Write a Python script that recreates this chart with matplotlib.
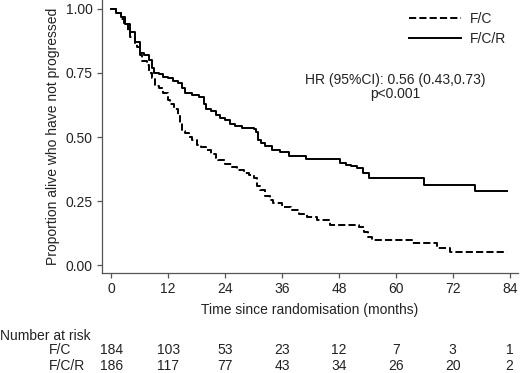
import matplotlib

matplotlib.use("Agg")
import matplotlib.pyplot as plt
from matplotlib import transforms

plt.rcParams["font.family"] = ["Liberation Sans", "DejaVu Sans"]

# Kaplan-Meier steps (months, proportion)
FC_TIME = [0, 1, 2, 2.6, 3.5, 4, 5, 5.5, 6, 6.5, 7.5, 8, 8.5, 9.3, 10, 11, 12, 12.5,
           13.3, 14, 14.6, 15, 15.5, 16.3, 17, 18, 19, 20, 21, 22, 22.6, 24, 25.5,
           26.5, 27.9, 29, 30, 30.7, 31.4, 32.5, 33.5, 34.2, 36, 37.8, 39.5, 41.3,
           43.4, 46.2, 52.2, 53.2, 54.2, 55, 63.4, 68.7, 71.5, 83.5]
FC_SURV = [1.0, 0.985, 0.96, 0.94, 0.91, 0.89, 0.865, 0.85, 0.82, 0.795, 0.78, 0.75,
           0.73, 0.70, 0.69, 0.67, 0.645, 0.63, 0.61, 0.585, 0.555, 0.525, 0.515, 0.50,
           0.488, 0.47, 0.46, 0.449, 0.435, 0.42, 0.41, 0.395, 0.384, 0.37, 0.358, 0.35,
           0.339, 0.31, 0.293, 0.27, 0.255, 0.241, 0.228, 0.215, 0.20, 0.189, 0.176,
           0.156, 0.15, 0.13, 0.11, 0.098, 0.085, 0.068, 0.05, 0.05]

FCR_TIME = [0, 1, 2, 3, 4, 5, 6, 7, 8, 8.5, 9, 10, 11, 12, 13, 14, 15, 15.5, 17, 18.5,
            19.5, 20, 21, 22, 23, 24, 25, 26, 27.5, 30, 30.5, 31, 31.5, 32.5, 34, 35.5,
            37.5, 41, 48.3, 49.5, 50.5, 51.8, 53, 54.3, 65.9, 76.8, 83.5]
FCR_SURV = [1.0, 0.985, 0.97, 0.94, 0.91, 0.87, 0.83, 0.82, 0.80, 0.77, 0.75, 0.745,
            0.735, 0.73, 0.72, 0.71, 0.69, 0.67, 0.665, 0.657, 0.63, 0.61, 0.60, 0.585,
            0.575, 0.565, 0.55, 0.545, 0.535, 0.53, 0.52, 0.49, 0.475, 0.465, 0.45, 0.44,
            0.427, 0.413, 0.40, 0.39, 0.385, 0.378, 0.36, 0.339, 0.3125, 0.29, 0.29]

RISK_TIMES = [0, 12, 24, 36, 48, 60, 72, 84]
FC_RISK = [184, 103, 53, 23, 12, 7, 3, 1]
FCR_RISK = [186, 117, 77, 43, 34, 26, 20, 2]

TEXT = "#222222"
AXIS = "#555555"
FS = 10

fig = plt.figure(figsize=(5.2, 3.73), dpi=100)
ax = fig.add_axes([0.1956, 0.268, 0.8, 0.732])

ax.step(FC_TIME, FC_SURV, where="post", color="black", lw=1.4, ls="--", label="F/C")
ax.step(FCR_TIME, FCR_SURV, where="post", color="black", lw=1.4, ls="-", label="F/C/R")

ax.set_xlim(-2, 85.7)
ax.set_ylim(-0.031, 1.035)
ax.set_xticks(RISK_TIMES)
ax.set_yticks([0, 0.25, 0.5, 0.75, 1.0])
ax.set_yticklabels(["0.00", "0.25", "0.50", "0.75", "1.00"])
for side in ("top", "right"):
    ax.spines[side].set_visible(False)
for side in ("left", "bottom"):
    ax.spines[side].set_color(AXIS)
    ax.spines[side].set_linewidth(0.9)
ax.tick_params(direction="out", length=3.6, width=0.9, color=AXIS,
               labelsize=FS, labelcolor=TEXT, pad=3)
ax.set_xlabel("Time since randomisation (months)", fontsize=FS, color=TEXT, labelpad=5)
ax.set_ylabel("Proportion alive who have not progressed", fontsize=FS, color=TEXT, labelpad=4)

ax.legend(loc="upper right", bbox_to_anchor=(1.0, 1.0), frameon=False, fontsize=FS,
          handlelength=3.8, handletextpad=0.6, labelcolor=TEXT, borderaxespad=0.45,
          labelspacing=0.45)

ax.text(0.705, 0.683, "HR (95%CI): 0.56 (0.43,0.73)\np<0.001", transform=ax.transAxes,
        ha="center", va="center", fontsize=FS, color=TEXT, linespacing=1.0)

# number at risk table
trans = transforms.blended_transform_factory(ax.transData, fig.transFigure)
fig.text(0.0, 1 - 335.5 / 373, "Number at risk", ha="left", va="center",
         fontsize=FS, color=TEXT)
for label, counts, ypix in (("F/C", FC_RISK, 350.5), ("F/C/R", FCR_RISK, 365.5)):
    y = 1 - ypix / 373
    fig.text(49 / 520, y, label, ha="left", va="center", fontsize=FS, color=TEXT)
    for t, n in zip(RISK_TIMES, counts):
        ax.text(t, y, str(n), transform=trans, ha="center", va="center",
                fontsize=FS, color=TEXT, clip_on=False)

fig.savefig("out.png", dpi=100)
plt.close(fig)
